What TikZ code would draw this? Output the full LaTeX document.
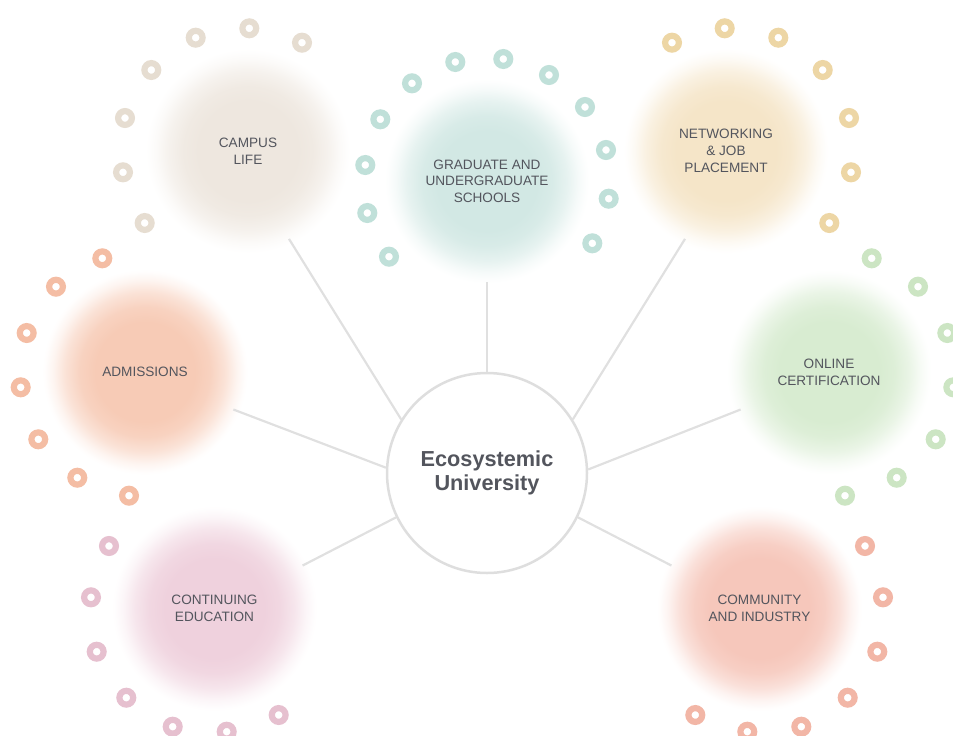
\documentclass[tikz,border=0pt]{standalone}
\usepackage{fontspec}
\setmainfont{Liberation Sans}
\usetikzlibrary{calc}

% palette
\definecolor{ink}{HTML}{53555D}
\definecolor{spokegray}{HTML}{E0E0E0}
\definecolor{hubline}{HTML}{DEDEDE}

\definecolor{campcore}{HTML}{EEE7DF}
\definecolor{campring}{HTML}{E6DDD1}
\definecolor{gradcore}{HTML}{D2E8E4}
\definecolor{gradring}{HTML}{C0E0D9}
\definecolor{netcore}{HTML}{F5E5C8}
\definecolor{netring}{HTML}{EDD6A5}
\definecolor{onlcore}{HTML}{D8ECD1}
\definecolor{onlring}{HTML}{CCE5C3}
\definecolor{admcore}{HTML}{F7CBB6}
\definecolor{admring}{HTML}{F4BDA4}
\definecolor{contcore}{HTML}{EFD1DD}
\definecolor{contring}{HTML}{E6C0CF}
\definecolor{commcore}{HTML}{F6C7BB}
\definecolor{commring}{HTML}{F2B6A6}

% soft-edged disc: flat core that fades out to white at the rim
% (the central 50bp square of a shading is what covers the path)
\newcommand\softdisc[2]{%
  \pgfdeclareradialshading{#1}{\pgfpoint{0bp}{0bp}}{%
    color(0bp)=(#2); color(12.1bp)=(#2); color(15.8bp)=(#2!86!white);
    color(19.4bp)=(#2!55!white); color(22.3bp)=(#2!20!white);
    color(24.3bp)=(#2!3!white); color(25bp)=(white); color(50bp)=(white)}}
\softdisc{campsoft}{campcore}
\softdisc{gradsoft}{gradcore}
\softdisc{netsoft}{netcore}
\softdisc{onlsoft}{onlcore}
\softdisc{admsoft}{admcore}
\softdisc{contsoft}{contcore}
\softdisc{commsoft}{commcore}

\tikzset{
  hub/.style={circle, draw=hubline, line width=2.5pt, fill=white,
    minimum size=200pt, inner sep=0pt, align=center, text=ink,
    font=\bfseries\fontsize{21.7}{23.4}\selectfont},
  sat/.style={circle, minimum size=206pt, inner sep=0pt, align=center,
    text=ink, shade, shading=#1, font=\fontsize{13.6}{17}\selectfont},
  spoke/.style={draw=spokegray, line width=2.2pt},
  ring/.style={draw=#1, line width=6.2pt},
}

\begin{document}
\begin{tikzpicture}[x=1pt, y=-1pt]
  \useasboundingbox (0,0) rectangle (953,736);
  \clip (0,0) rectangle (953,736);

  % satellite areas
  \node[sat=campsoft] (campus) at (248,151) {CAMPUS\\LIFE};
  \node[sat=gradsoft, font=\fontsize{13.6}{16.6}\selectfont] (grad) at (487,181)
    {GRADUATE AND\\UNDERGRADUATE\\SCHOOLS};
  \node[sat=netsoft, font=\fontsize{13.6}{16.8}\selectfont] (net) at (726,151)
    {NETWORKING\\\& JOB\\PLACEMENT};
  \node[sat=admsoft] (adm) at (145,372) {ADMISSIONS};
  \node[sat=onlsoft] (online) at (829,372) {ONLINE\\CERTIFICATION};
  \node[sat=contsoft] (cont) at (214.5,608.5) {CONTINUING\\EDUCATION};
  \node[sat=commsoft] (comm) at (759.5,608.5) {COMMUNITY\\AND INDUSTRY};

  % ring garlands around each area
  \foreach \p in {(302,42.7),(249.3,28.3),(195.7,37.7),(151.3,70),(125,118),(123,172.3),(144.7,223)}
    \draw[ring=campring] \p circle[radius=6.9];
  \foreach \p in {(412,83.3),(455.3,62),(503.3,59),(549,75),(585,107),(606,150),(608.7,198.7),(592.3,243.3),(380.3,119.3),(365.3,165),(367.3,213),(389,256.7)}
    \draw[ring=gradring] \p circle[radius=6.9];
  \foreach \p in {(672,42.7),(724.7,28.3),(778.3,37.7),(822.7,70),(849,118),(851,172.3),(829.3,223)}
    \draw[ring=netring] \p circle[radius=6.9];
  \foreach \p in {(102.3,258.3),(56,286.7),(26.7,333),(20.7,387.3),(38.3,439.3),(77.3,477.7),(129,495.7)}
    \draw[ring=admring] \p circle[radius=6.9];
  \foreach \p in {(871.7,258.3),(918,286.7),(947.3,333),(953.3,387.3),(935.7,439.3),(896.7,477.7),(845,495.7)}
    \draw[ring=onlring] \p circle[radius=6.9];
  \foreach \p in {(109,546),(91,597.3),(96.7,651.7),(126.3,697.7),(172.7,726.7),(226.7,731.7),(278.7,715)}
    \draw[ring=contring] \p circle[radius=6.9];
  \foreach \p in {(865,546),(883,597.3),(877.3,651.7),(847.7,697.7),(801.3,726.7),(747.3,731.7),(695.3,715)}
    \draw[ring=commring] \p circle[radius=6.9];

  % hub
  \node[hub] (hub) at (487,473) {Ecosystemic\\University};

  % spokes: from the hub rim to just inside each soft disc
  \draw[spoke] (hub.148)   -- ($(campus.center)!97pt!(campus.295)$);
  \draw[spoke] (hub.90)    -- ($(grad.center)!101pt!(grad.270)$);
  \draw[spoke] (hub.32)    -- ($(net.center)!97pt!(net.245)$);
  \draw[spoke] (hub.177.5) -- ($(adm.center)!96pt!(adm.337)$);
  \draw[spoke] (hub.2.5)   -- ($(online.center)!96pt!(online.203)$);
  \draw[spoke] (hub.206)   -- ($(cont.center)!98pt!(cont.26)$);
  \draw[spoke] (hub.334)   -- ($(comm.center)!98pt!(comm.154)$);
\end{tikzpicture}
\end{document}
